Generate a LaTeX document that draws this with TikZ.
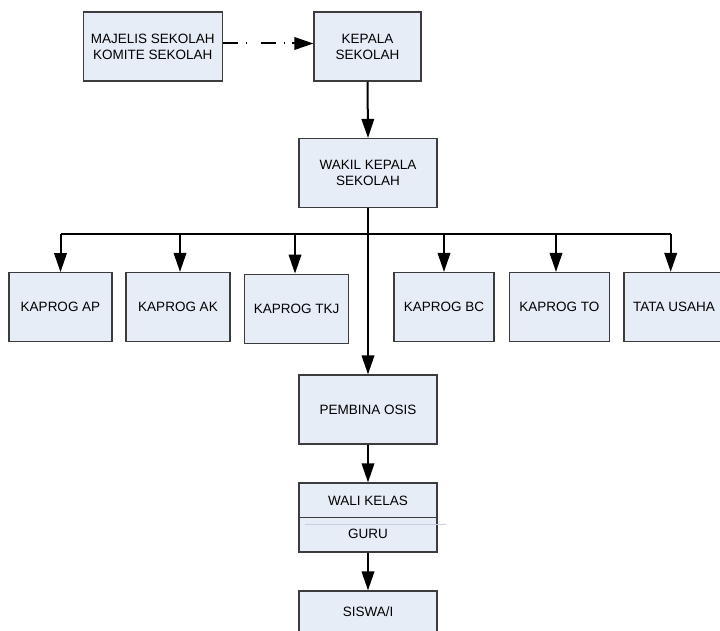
\documentclass[tikz,border=0pt]{standalone}
\usepackage{fontspec}
\setmainfont{Liberation Sans}
\usetikzlibrary{arrows.meta}
\definecolor{boxfill}{RGB}{231,237,247}
\definecolor{boxline}{RGB}{60,60,60}
\definecolor{faint}{RGB}{200,208,222}
\begin{document}
\begin{tikzpicture}[x=1pt,y=-1pt,
  lbl/.style={font=\fontsize{13.5}{16}\selectfont},
  box/.style={draw=boxline,line width=1.2pt,fill=boxfill,minimum width=#1,minimum height=69pt,
    inner sep=0pt,align=center,lbl},
  box/.default=138pt,
  conn/.style={line width=2pt,black},
  arr/.style={conn,-{Triangle[length=19pt,width=12.5pt]}}]
\useasboundingbox (0,0) rectangle (720,631);
\clip (0,0) rectangle (720,631);
\node[box=139pt] (maj) at (152.8,46.5) {MAJELIS SEKOLAH\\KOMITE SEKOLAH};
\node[box=107pt] (kep) at (367.5,46.5) {KEPALA\\SEKOLAH};
\node[box] (wak) at (368,173) {WAKIL KEPALA\\SEKOLAH};
\node[box=103pt] (ap) at (60.5,307.2) {KAPROG AP};
\node[box=104pt] (ak) at (178,307) {KAPROG AK};
\node[box=104pt] (tkj) at (296.7,308.7) {KAPROG TKJ};
\node[box=100pt] (bc) at (444,307) {KAPROG BC};
\node[box=100pt] (to) at (559.3,307) {KAPROG TO};
\node[box=100pt] (tata) at (674,307) {TATA USAHA};
\node[box] (pem) at (368,409.5) {PEMBINA OSIS};
\node[box] (wali) at (368,517.5) {};
\node[lbl] (walit) at (368,501) {WALI KELAS};
\node[lbl] (guru) at (368,534) {GURU};
\draw[boxline,line width=1.2pt] (wali.west) -- (wali.east);
\draw[faint,line width=0.8pt] ([xshift=7pt,yshift=-7pt]wali.west) -- ([xshift=8pt,yshift=-7pt]wali.east);
\node[box] (sis) at (368,625.5) {};
\node[lbl] (sist) at (368,611.5) {SISWA/I};
% connectors
\draw[conn,dash pattern=on 15pt off 8pt on 1.5pt off 13.5pt] ([yshift=3pt]maj.east) -- ([yshift=3pt,xshift=-20pt]kep.west);
\draw[arr] ([yshift=3pt,xshift=-21pt]kep.west) -- ([yshift=3pt]kep.west);
\draw[arr] (kep.south) -- (wak.north);
\coordinate (bus) at (368,234);
\draw[arr] (wak.south) -- (pem.north);
\draw[conn] (ap.north |- bus) -- ([xshift=-3.3pt]tata.north |- bus);
\draw[arr] (ap.north |- bus) -- (ap.north);
\draw[arr] ([xshift=2pt]ak.north |- bus) -- ([xshift=2pt]ak.north);
\draw[arr] ([xshift=-1.7pt]tkj.north |- bus) -- ([xshift=-1.7pt]tkj.north);
\draw[arr] (bc.north |- bus) -- (bc.north);
\draw[arr] ([xshift=-3.3pt]to.north |- bus) -- ([xshift=-3.3pt]to.north);
\draw[arr] ([xshift=-3.3pt]tata.north |- bus) -- ([xshift=-3.3pt]tata.north);
\draw[arr] (pem.south) -- (wali.north);
\draw[arr] (wali.south) -- (sis.north);
\end{tikzpicture}
\end{document}
